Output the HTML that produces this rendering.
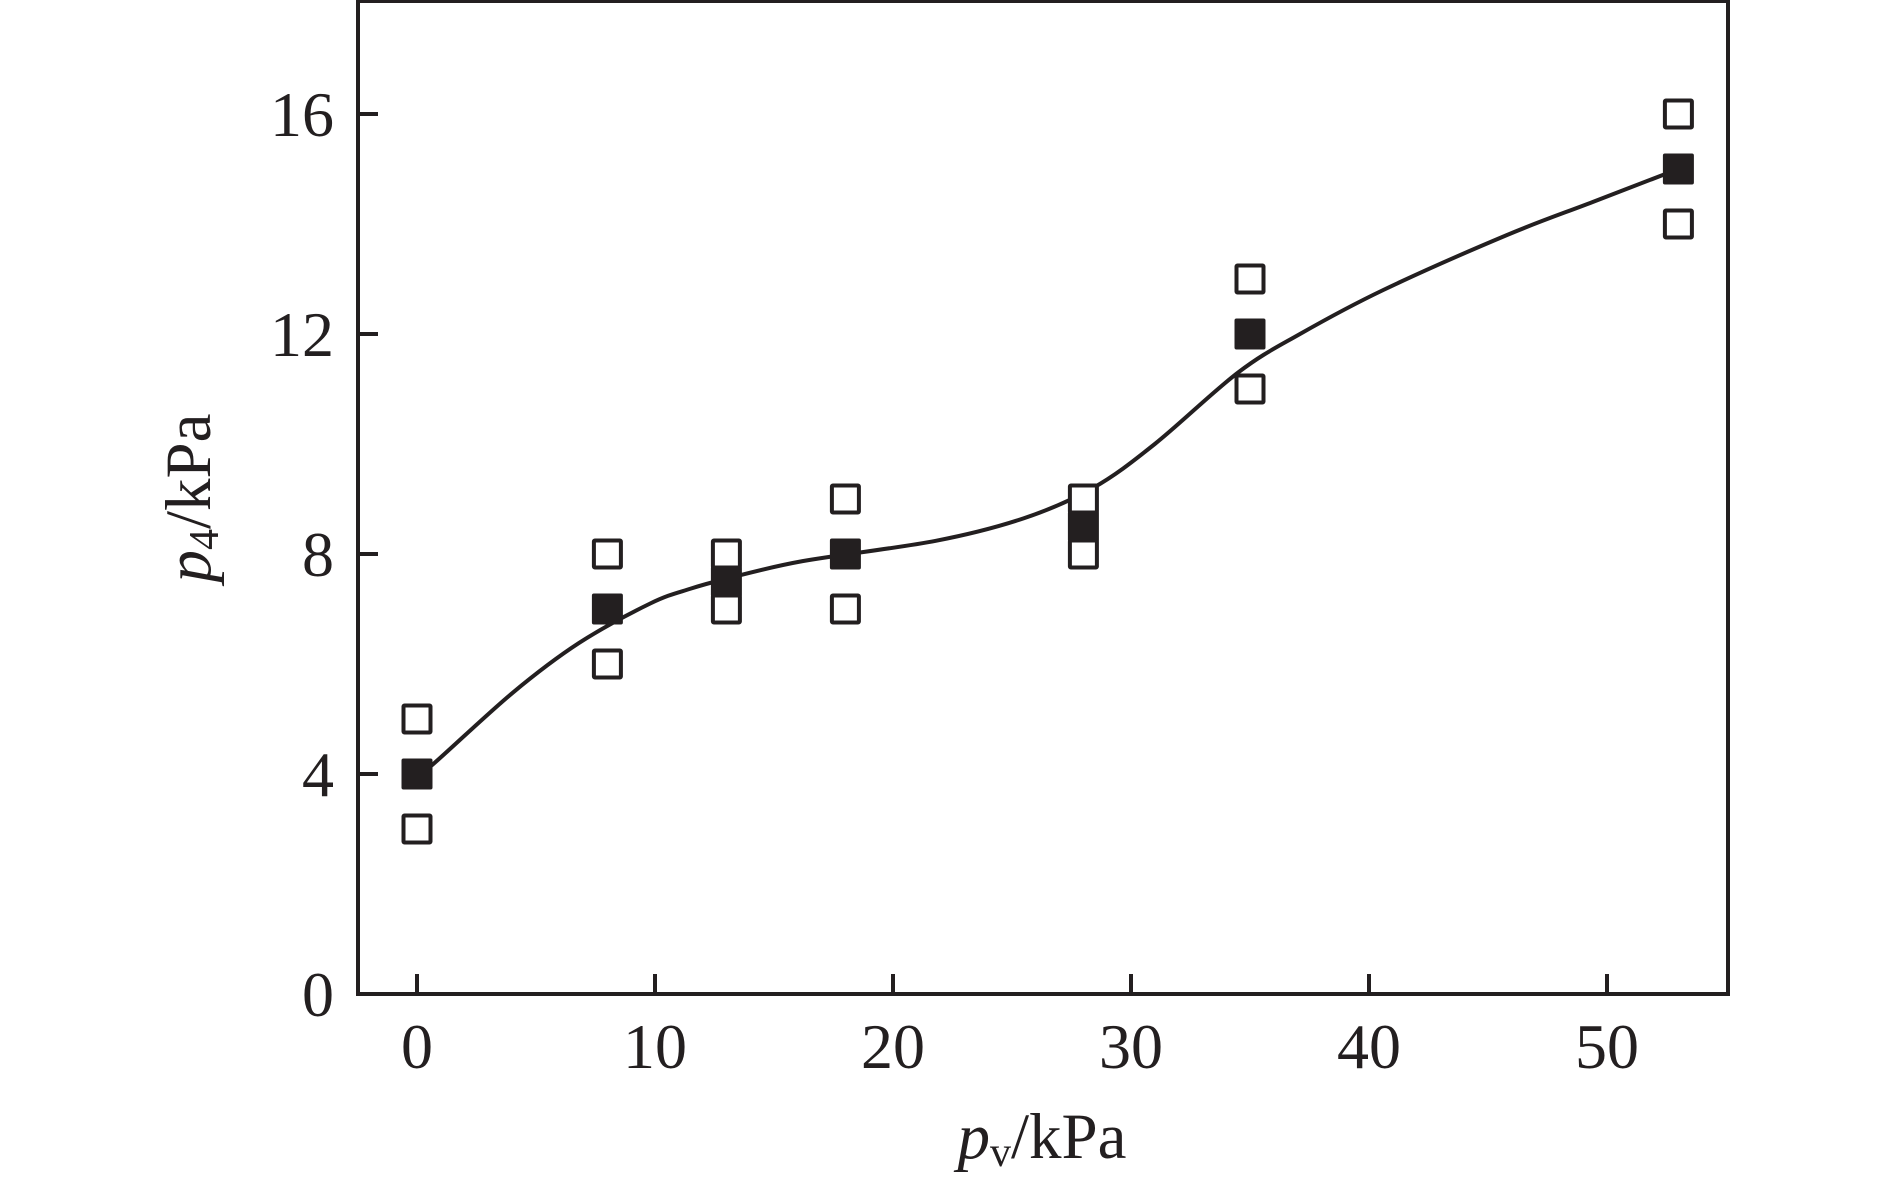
<!DOCTYPE html>
<html><head><meta charset="utf-8"><style>
html,body{margin:0;padding:0;background:#fff;}
svg{display:block;font-family:"Liberation Serif",serif;}
</style></head><body>
<svg id="chart" width="1890" height="1193" viewBox="0 0 1890 1193">
<g id="axes"></g>
<g id="marks"></g>
<text x="1042" y="1158" text-anchor="middle" font-size="65" fill="#231f20"><tspan font-style="italic">p</tspan><tspan font-size="42" dy="8">v</tspan><tspan dy="-8">/kPa</tspan></text>
<text transform="translate(210,498) rotate(-90)" text-anchor="middle" font-size="65" fill="#231f20"><tspan font-style="italic">p</tspan><tspan font-size="42" dy="8">4</tspan><tspan dy="-8">/kPa</tspan></text>
</svg>
<script>
const xTicks = [0, 10, 20, 30, 40, 50];
const yTicks = [0, 4, 8, 12, 16];
const xMeans = [0, 8, 13, 18, 28, 35, 53];
const yMeans = [4, 7, 7.5, 8, 8.5, 12, 15];
const yUpper = [5, 8, 8, 9, 9, 13, 16];
const yLower = [3, 6, 7, 7, 8, 11, 14];
const fitX = [0, 0.6, 4.0, 6.8, 9.8, 11.5, 13, 16.2, 21.8, 25.5, 28.4, 31.0, 34.5, 37.1, 40.6, 45.8, 49.4, 53];
const fitY = [4, 4.15, 5.47, 6.38, 7.1, 7.37, 7.55, 7.87, 8.24, 8.65, 9.2, 10.0, 11.3, 12.0, 12.8, 13.8, 14.4, 15];

const X0 = 417, XS = 23.8, Y0 = 994, YS = 55;
const sx = v => X0 + v * XS;
const sy = v => Y0 - v * YS;
const NS = 'http://www.w3.org/2000/svg';
const C = '#231f20';
const axes = document.getElementById('axes');
const marks = document.getElementById('marks');
function mk(tag, attrs, parent) {
  const e = document.createElementNS(NS, tag);
  for (const k in attrs) e.setAttribute(k, attrs[k]);
  parent.appendChild(e);
  return e;
}
const frame = mk('rect', {x: 358, y: 1, width: 1370, height: 993, fill: 'none', stroke: C, 'stroke-width': 4}, axes);


xTicks.forEach(t => {
  const l = mk('line', {x1: sx(t), x2: sx(t), y1: Y0, y2: Y0 - 20, stroke: C, 'stroke-width': 4}, axes);
  
  
  const tx = mk('text', {x: sx(t), y: 1068, 'text-anchor': 'middle', 'font-size': 64, fill: C}, axes);
  tx.textContent = t;
  
  
});
yTicks.forEach(t => {
  const l = mk('line', {x1: 358, x2: 378, y1: sy(t), y2: sy(t), stroke: C, 'stroke-width': 4}, axes);
  
  
  const tx = mk('text', {x: 334, y: sy(t) + 22, 'text-anchor': 'end', 'font-size': 64, fill: C}, axes);
  tx.textContent = t;
  
  
});
const P = fitX.map((x, i) => [sx(x), sy(fitY[i])]);
let d = 'M' + P[0][0] + ',' + P[0][1];
for (let i = 0; i < P.length - 1; i++) {
  const p0 = P[Math.max(0, i - 1)], p1 = P[i], p2 = P[i + 1], p3 = P[Math.min(P.length - 1, i + 2)];
  const c1 = [p1[0] + (p2[0] - p0[0]) / 6, p1[1] + (p2[1] - p0[1]) / 6];
  const c2 = [p2[0] - (p3[0] - p1[0]) / 6, p2[1] - (p3[1] - p1[1]) / 6];
  d += ' C' + c1 + ' ' + c2 + ' ' + p2;
}
const curve = mk('path', {d: d, fill: 'none', stroke: C, 'stroke-width': 4}, marks);


const S = 27;
function openSq(x, y) {
  const r = mk('rect', {x: sx(x) - S / 2, y: sy(y) - S / 2, width: S, height: S, fill: '#fff', stroke: C, 'stroke-width': 4, rx: 1}, marks);
  
  
}
xMeans.forEach((x, i) => { openSq(x, yUpper[i]); openSq(x, yLower[i]); });
xMeans.forEach((x, i) => {
  const r = mk('rect', {x: sx(x) - 15.5, y: sy(yMeans[i]) - 15.5, width: 31, height: 31, fill: C, rx: 2}, marks);
  
  
});
</script>
</body></html>
